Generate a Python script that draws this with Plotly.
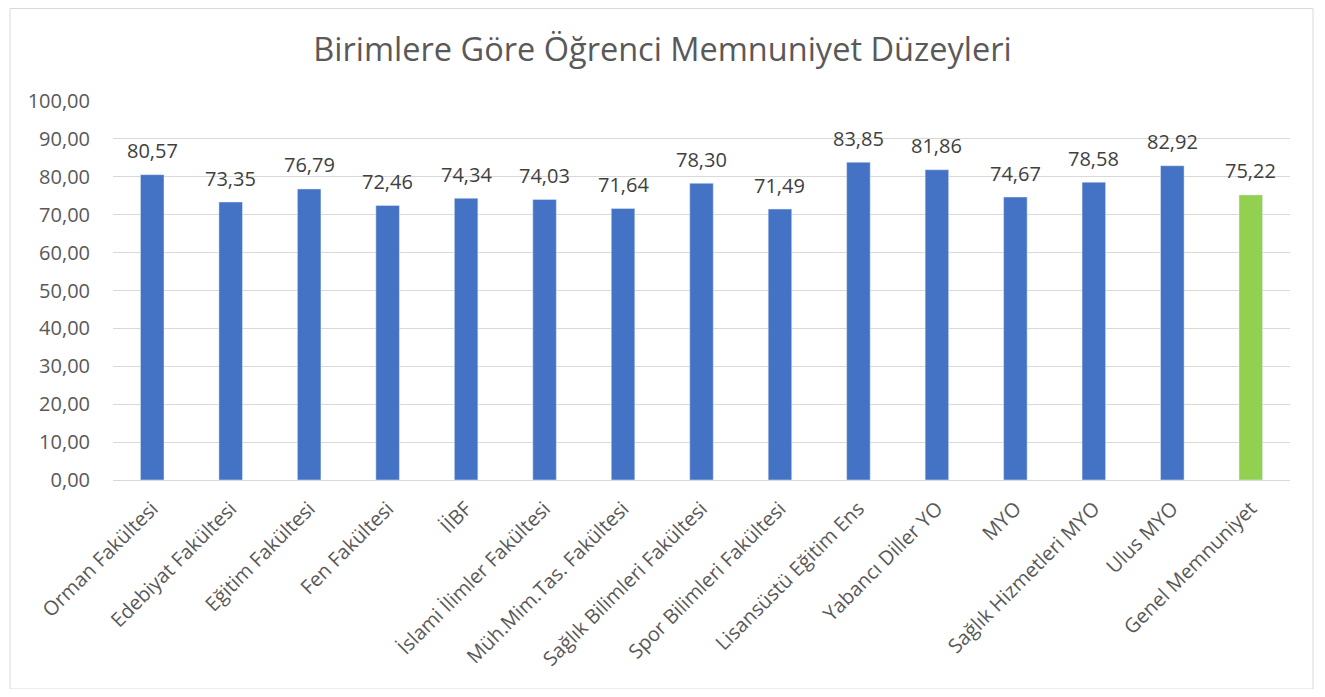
import plotly.graph_objects as go

categories = ["Orman Fakültesi", "Edebiyat Fakültesi", "Eğitim Fakültesi", "Fen Fakültesi",
              "İİBF", "İslami İlimler Fakültesi", "Müh.Mim.Tas. Fakültesi",
              "Sağlık Bilimleri Fakültesi", "Spor Bilimleri Fakültesi", "Lisansüstü Eğitim Ens",
              "Yabancı Diller YO", "MYO", "Sağlık Hizmetleri MYO", "Ulus MYO", "Genel Memnuniyet"]
values = [80.57, 73.35, 76.79, 72.46, 74.34, 74.03, 71.64, 78.30, 71.49, 83.85,
          81.86, 74.67, 78.58, 82.92, 75.22]
colors = ["#4472C4"] * 14 + ["#92D050"]

# page has an 8px body margin; figure coordinates are page coordinates minus 8
OFF = 8
W, H = 1325 - 2 * OFF, 697 - 2 * OFF
L, T = 113 - OFF, 101 - OFF
R = W - (1290 - OFF)
B = H - (480 - OFF)
pw, ph = W - L - R, H - T - B

fig = go.Figure(go.Bar(
    x=categories, y=values, marker_color=colors,
    hovertemplate="%{x}: %{y:.2f}<extra></extra>",
))

for c, v in zip(categories, values):
    fig.add_annotation(x=c, y=v, text=f"{v:.2f}".replace(".", ","), showarrow=False,
                       yanchor="middle", yshift=24,
                       font=dict(size=20, color="#404040", family="Open Sans"))

fig.update_layout(
    width=W, height=H,
    margin=dict(l=L, r=R, t=T, b=B),
    paper_bgcolor="white", plot_bgcolor="white",
    separators=",.",
    font=dict(family="Open Sans", color="#595959"),
    title=dict(text="Birimlere Göre Öğrenci Memnuniyet Düzeyleri", x=0.5, xanchor="center",
               y=1 - (50 - OFF) / H, yanchor="middle", font=dict(size=32.5, color="#595959")),
    bargap=0.7,
    showlegend=False,
)
fig.update_yaxes(range=[0, 100], dtick=10, tickformat=".2f", gridcolor="#D9D9D9",
                 zeroline=False, showline=False, tickfont=dict(size=20, color="#595959"),
                 ticks="", ticklabelstandoff=22)
fig.update_xaxes(tickangle=-45, tickfont=dict(size=20, color="#595959"), showline=True,
                 linecolor="#D9D9D9", ticks="", ticklabelstandoff=8)
fig.add_shape(type="rect", xref="paper", yref="paper",
              x0=(10 - OFF - L) / pw, x1=(1313 - OFF - L) / pw,
              y0=(H - B - (689 - OFF)) / ph, y1=(H - B - 0.5) / ph,
              line=dict(color="#D9D9D9", width=1), fillcolor="rgba(0,0,0,0)")
fig.write_html("out.html")
